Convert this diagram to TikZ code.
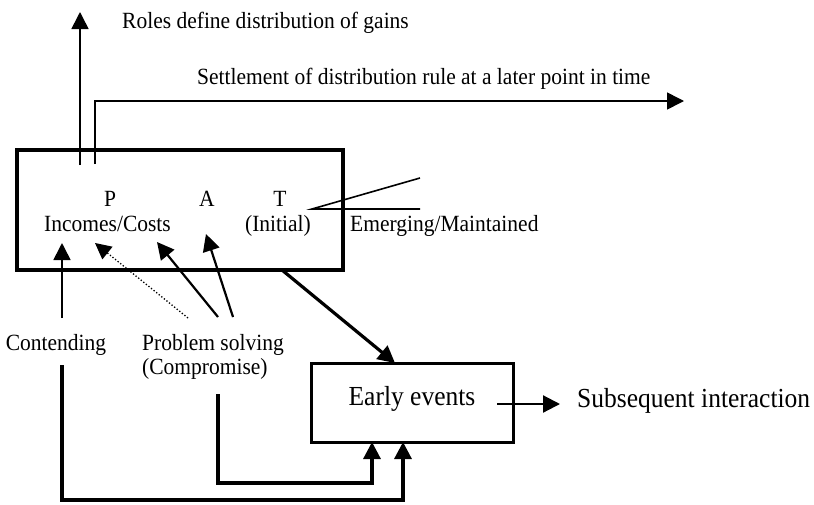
\documentclass[tikz,border=0pt]{standalone}
\usepackage{fontspec}
\setmainfont{Liberation Serif}
\usetikzlibrary{arrows.meta}
% slightly taller lettering, as in the printed figure
\newcommand{\tallbox}[1]{\scalebox{1}[1.08]{#1}}
\begin{document}
\begin{tikzpicture}[x=1pt,y=-1pt,
  txt/.style={inner sep=0pt, font=\fontsize{21.5}{24}\selectfont},
  bigtxt/.style={inner sep=0pt, font=\fontsize{25.5}{28}\selectfont},
  box/.style={draw, line width=3.5pt, inner sep=0pt},
  tip/.style={-{Triangle[length=17pt,width=17pt]}},
  thin/.style={line width=1.6pt},
  mid/.style={line width=2.2pt},
  heavy/.style={line width=3.2pt}]
\useasboundingbox (0,0) rectangle (814,504);

% boxes
\node[box, minimum width=326pt, minimum height=120pt] (pat) at (180,210) {};
\node[box, line width=3pt, minimum width=202pt, minimum height=79pt] (early) at (412,402.5) {};

% labels
\node[txt, anchor=base west] (roles) at (122,28) {\tallbox{Roles define distribution of gains}};
\node[txt, anchor=base west] (settle) at (197,84) {\tallbox{Settlement of distribution rule at a later point in time}};
\node[txt, anchor=base] (P) at (110,206) {\tallbox{P}};
\node[txt, anchor=base] (A) at (207,206) {\tallbox{A}};
\node[txt, anchor=base] (T) at (280,206) {\tallbox{T}};
\node[txt, anchor=base] (inc) at (107.5,231) {\tallbox{Incomes/Costs}};
\node[txt, anchor=base] (init) at (278,231) {\tallbox{(Initial)}};
\node[txt, anchor=base west] (emerg) at (350,231) {\tallbox{Emerging/Maintained}};
\node[txt, anchor=base] (cont) at (56,350) {\tallbox{Contending}};
\node[txt, anchor=base west] (prob) at (142,350) {\tallbox{Problem solving}};
\node[txt, anchor=base west] (comp) at (142,374) {\tallbox{(Compromise)}};
\node[bigtxt, anchor=base] (evt) at (412,405) {\tallbox{Early events}};
\node[bigtxt, anchor=base west] (subs) at (577,407) {\tallbox{Subsequent interaction}};

% connector end points
\coordinate (rolesFrom) at (80,165);
\coordinate (rolesTo) at (80,12);
\coordinate (settleFrom) at (95,164);
\coordinate (settleTo) at (684,101);
\coordinate (tFrom) at (312,209);
\coordinate (tUp) at (420,178);
\coordinate (tFlat) at (420,209);
\coordinate (c1) at (62,318);
\coordinate (c1to) at (62,243);
\coordinate (p1) at (188,318);
\coordinate (p1to) at (95,243);
\coordinate (p2) at (218,317);
\coordinate (p2to) at (157,242);
\coordinate (p3) at (233,317);
\coordinate (p3to) at (206,234);
\coordinate (patOut) at (282,270);
\coordinate (earlyIn) at (395,363);
\coordinate (evtOut) at (497,404);
\coordinate (evtTo) at (560,404);
\coordinate (contDown) at (62,365);
\coordinate (probDown) at (218,394);
\coordinate (inA) at (372,442);
\coordinate (inB) at (403,442);

% outcomes of roles
\draw[thin, tip] (rolesFrom) -- (rolesTo);
\draw[thin, tip] (settleFrom) |- (settleTo);
\draw[thin] (tUp) -- (tFrom) -- (tFlat);

% tactics acting on P and A
\draw[thin, tip] (c1) -- (c1to);
\draw[line width=1.3pt, dotted, -{Triangle[length=16pt,width=16pt]}] (p1) -- (p1to);
\draw[mid, tip] (p2) -- (p2to);
\draw[mid, tip] (p3) -- (p3to);

% into and out of early events
\draw[heavy, tip] (patOut) -- (earlyIn);
\draw[mid, tip] (evtOut) -- (evtTo);
\draw[heavy, tip] (contDown) |- (403,500) -- (inB);
\draw[heavy, tip] (probDown) |- (372,483) -- (inA);
\end{tikzpicture}
\end{document}
